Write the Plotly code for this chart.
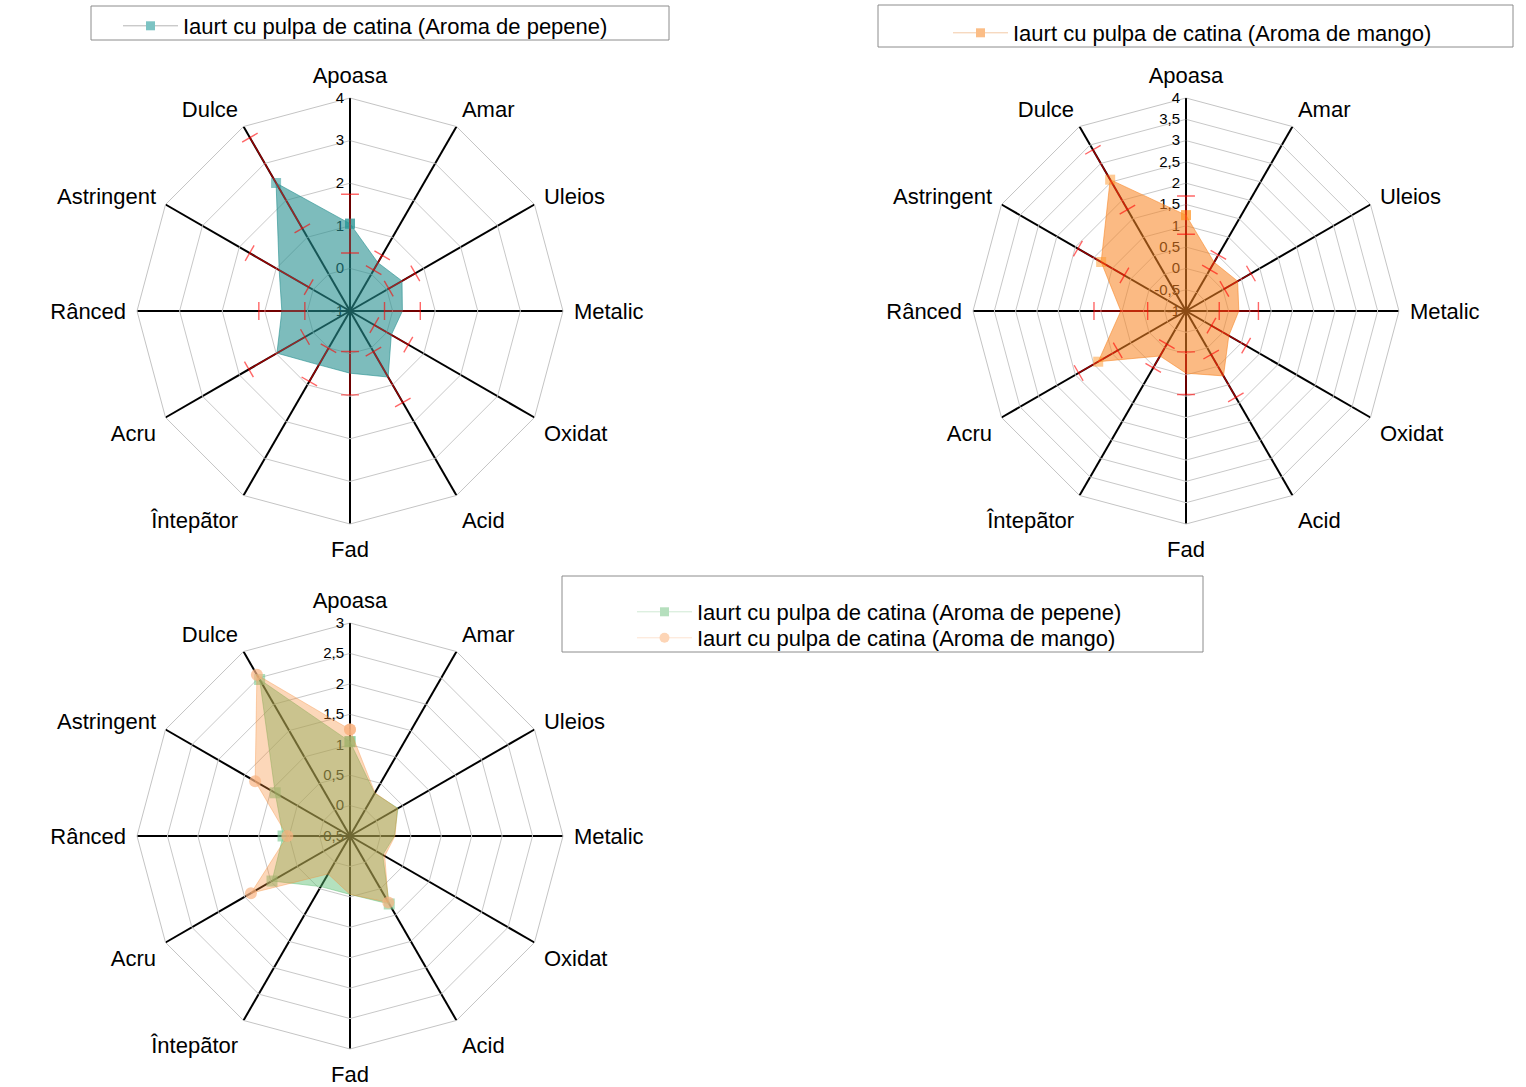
import math
import plotly.graph_objects as go

# Sensory attributes, clockwise from the top
categories = ["Apoasa", "Amar", "Uleios", "Metalic", "Oxidat", "Acid", "Fad",
              "Întepãtor", "Acru", "Rânced", "Astringent", "Dulce"]

# Mean scores and standard deviations
pepene = [1.05, 0.31, 0.41, 0.23, 0.12, 0.79, 0.46, 0.46, 0.98, 0.60, 0.92, 2.47]
pepene_err = [0.69, 0.20, 0.36, 0.42, 0.46, 0.69, 0.51, 0.45, 0.76, 0.54, 0.80, 1.23]
mango = [1.25, 0.32, 0.40, 0.24, 0.16, 0.76, 0.46, 0.22, 1.38, 0.53, 1.30, 2.56]
mango_err = [0.45, 0.20, 0.36, 0.46, 0.47, 0.58, 0.50, 0.32, 0.53, 0.63, 0.63, 0.81]

name_pepene = "Iaurt cu pulpa de catina (Aroma de pepene)"
name_mango = "Iaurt cu pulpa de catina (Aroma de mango)"

# Radial scales of the three charts
ticks_1 = [-1, 0, 1, 2, 3, 4]
ticks_2 = [-1, -0.5, 0, 0.5, 1, 1.5, 2, 2.5, 3, 3.5, 4]
ticks_3 = [-0.5, 0, 0.5, 1, 1.5, 2, 2.5, 3]

W, H = 1526, 1087
R = 213
FONT = "Liberation Sans, Arial, sans-serif"


def label(v):
    return ("%g" % v).replace(".", ",")


def domain(cx, cy):
    return dict(x=[(cx - R) / W, (cx + R) / W], y=[1 - (cy + R) / H, 1 - (cy - R) / H])


def grid_polar(cx, cy, ticks):
    return dict(
        domain=domain(cx, cy),
        bgcolor="rgba(0,0,0,0)",
        gridshape="linear",
        angularaxis=dict(
            type="category", categoryarray=categories, rotation=90, direction="clockwise",
            showgrid=True, gridcolor="black", gridwidth=1.5,
            showline=True, linecolor="#c4c4c4", linewidth=1,
            ticks="outside", ticklen=6, tickcolor="rgba(0,0,0,0)",
            tickfont=dict(family=FONT, size=22, color="black"),
            layer="below traces",
        ),
        radialaxis=dict(
            range=[ticks[0], ticks[-1]], tickmode="array", tickvals=ticks,
            ticktext=[label(t) for t in ticks],
            angle=90, tickangle=90, side="counterclockwise",
            showline=True, linecolor="black", linewidth=1.5,
            showgrid=True, gridcolor="#c8c8c8", gridwidth=1,
            ticks="", tickfont=dict(family=FONT, size=15, color="black"),
            layer="below traces",
        ),
    )


def overlay_polar(cx, cy, ticks):
    return dict(
        domain=domain(cx, cy),
        bgcolor="rgba(0,0,0,0)",
        angularaxis=dict(type="linear", thetaunit="degrees", rotation=90,
                         direction="clockwise", visible=False),
        radialaxis=dict(range=[ticks[0], ticks[-1]], visible=False),
    )


def error_bars(values, errors, rmin, cap):
    r, th = [], []
    step = 360 / len(values)
    for i, (v, e) in enumerate(zip(values, errors)):
        a = i * step
        r += [v - e, v + e, None]
        th += [a, a, None]
        for end in (v - e, v + e):
            d = end - rmin
            half = math.degrees(math.atan2(cap, d))
            rr = math.hypot(d, cap) + rmin
            r += [rr, rr, None]
            th += [a - half, a + half, None]
    return r, th


closed = categories + categories[:1]
fig = go.Figure()

# Chart 1: pepene with standard deviations
fig.add_trace(go.Scatterpolar(
    r=pepene + pepene[:1], theta=closed, subplot="polar", fill="toself",
    fillcolor="rgba(38,143,143,0.6)", mode="lines+markers",
    line=dict(color="rgba(38,143,143,0.6)", width=1),
    marker=dict(symbol="square", size=10, color="rgba(40,150,150,0.55)"),
    showlegend=False, hoverinfo="skip"))
er, et = error_bars(pepene, pepene_err, ticks_1[0], 0.21)
fig.add_trace(go.Scatterpolar(r=er, theta=et, subplot="polar2", mode="lines",
                              line=dict(color="rgba(255,0,0,0.6)", width=1.4),
                              showlegend=False, hoverinfo="skip"))
fig.add_trace(go.Scatterpolar(r=[None], theta=[None], subplot="polar", mode="lines+markers",
                              name=name_pepene, legend="legend",
                              line=dict(color="#b4b4b4", width=1),
                              marker=dict(symbol="square", size=9, color="#7cc3c3")))

# Chart 2: mango with standard deviations
fig.add_trace(go.Scatterpolar(
    r=mango + mango[:1], theta=closed, subplot="polar3", fill="toself",
    fillcolor="rgba(248,132,34,0.56)", mode="lines+markers",
    line=dict(color="rgba(248,132,34,0.56)", width=1),
    marker=dict(symbol="square", size=10, color="rgba(255,150,40,0.5)"),
    showlegend=False, hoverinfo="skip"))
er, et = error_bars(mango, mango_err, ticks_2[0], 0.21)
fig.add_trace(go.Scatterpolar(r=er, theta=et, subplot="polar4", mode="lines",
                              line=dict(color="rgba(255,0,0,0.6)", width=1.4),
                              showlegend=False, hoverinfo="skip"))
fig.add_trace(go.Scatterpolar(r=[None], theta=[None], subplot="polar3", mode="lines+markers",
                              name=name_mango, legend="legend2",
                              line=dict(color="#f3c9a5", width=1),
                              marker=dict(symbol="square", size=9, color="#fbbd86")))

# Chart 3: both flavours overlaid
fig.add_trace(go.Scatterpolar(
    r=pepene + pepene[:1], theta=closed, subplot="polar5", fill="toself",
    fillcolor="rgba(89,189,111,0.45)", mode="lines+markers",
    line=dict(color="rgba(89,189,111,0.45)", width=1),
    marker=dict(symbol="square", size=11, color="rgba(120,200,140,0.6)"),
    showlegend=False, hoverinfo="skip"))
fig.add_trace(go.Scatterpolar(
    r=mango + mango[:1], theta=closed, subplot="polar5", fill="toself",
    fillcolor="rgba(247,138,50,0.34)", mode="lines+markers",
    line=dict(color="rgba(247,138,50,0.34)", width=1),
    marker=dict(symbol="circle", size=12, color="rgba(250,180,130,0.7)"),
    showlegend=False, hoverinfo="skip"))
fig.add_trace(go.Scatterpolar(r=[None], theta=[None], subplot="polar5", mode="lines+markers",
                              name=name_pepene, legend="legend3",
                              line=dict(color="#cfe9d3", width=1),
                              marker=dict(symbol="square", size=9, color="#b5dfbd")))
fig.add_trace(go.Scatterpolar(r=[None], theta=[None], subplot="polar5", mode="lines+markers",
                              name=name_mango, legend="legend4",
                              line=dict(color="#fde3d0", width=1),
                              marker=dict(symbol="circle", size=10, color="#fdd5b6")))


def legend_box(x0, y0, x1, y1):
    return dict(type="rect", xref="paper", yref="paper",
                x0=x0 / W, x1=x1 / W, y0=1 - y1 / H, y1=1 - y0 / H,
                line=dict(color="#8c8c8c", width=1), fillcolor="rgba(0,0,0,0)")


def legend_at(x, y):
    return dict(x=x / W, y=1 - y / H, xanchor="left", yanchor="top",
                bgcolor="rgba(0,0,0,0)", borderwidth=0, itemwidth=55,
                font=dict(family=FONT, size=22, color="black"), tracegroupgap=0)


fig.update_layout(
    width=W, height=H,
    margin=dict(l=0, r=0, t=0, b=0, autoexpand=False),
    paper_bgcolor="white", plot_bgcolor="white",
    font=dict(family=FONT, color="black"),
    polar=grid_polar(350, 311, ticks_1),
    polar2=overlay_polar(350, 311, ticks_1),
    polar3=grid_polar(1186, 311, ticks_2),
    polar4=overlay_polar(1186, 311, ticks_2),
    polar5=grid_polar(350, 836, ticks_3),
    legend=legend_at(118, 5),
    legend2=legend_at(948, 12),
    legend3=legend_at(632, 591),
    legend4=legend_at(632, 617),
    shapes=[legend_box(91, 6, 669, 40), legend_box(878, 5, 1513, 47),
            legend_box(562, 576, 1203, 652)],
)

fig.write_html("out.html")
